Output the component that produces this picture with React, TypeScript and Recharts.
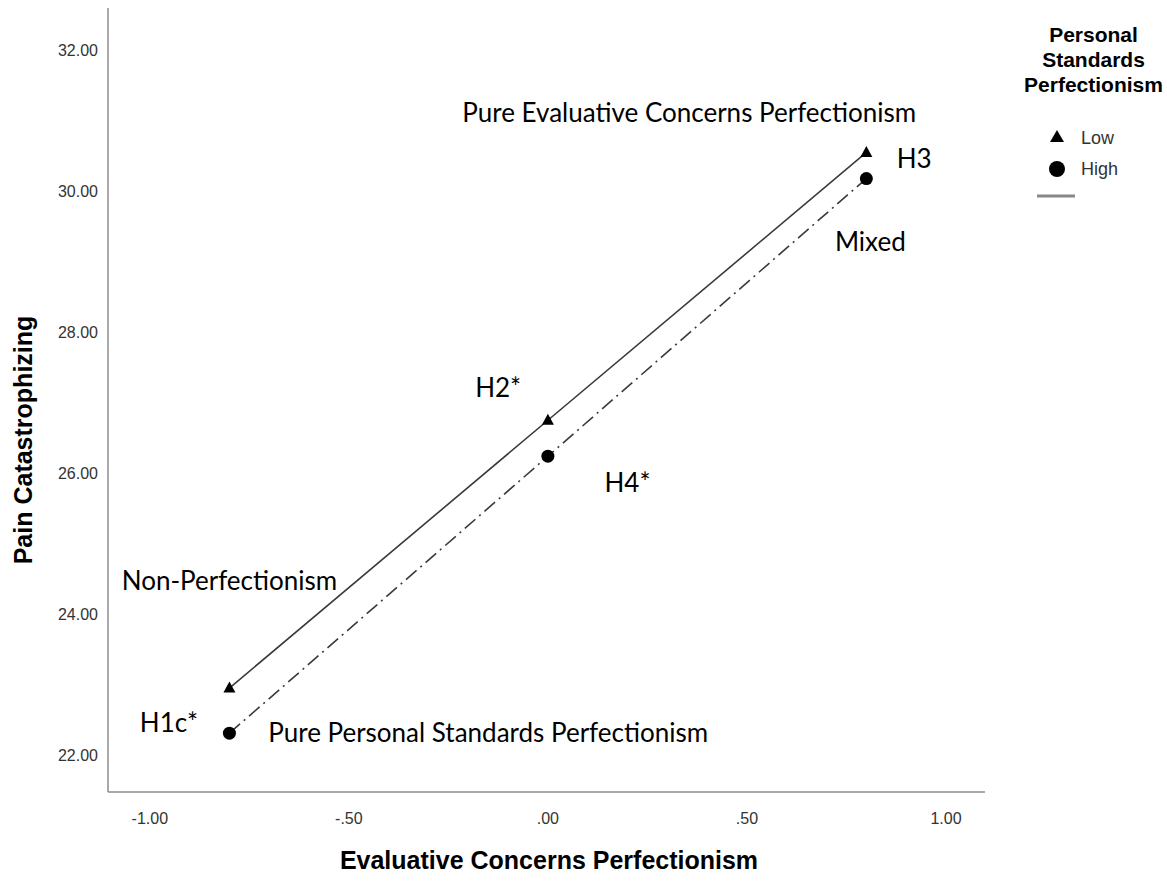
import React from 'react';
import { LineChart, Line, XAxis, YAxis, Legend, ReferenceDot } from 'recharts';

// Evaluative Concerns Perfectionism (x) at -1 SD, mean, +1 SD
const ecpLevels = [-0.8, 0, 0.8];
// Pain Catastrophizing, by Personal Standards Perfectionism group
const lowPsp = [22.95, 26.75, 30.55];
const highPsp = [22.31, 26.24, 30.18];

const xTicks = [-1, -0.5, 0, 0.5, 1];
const yTicks = [22, 24, 26, 28, 30, 32];

// text notes placed in data units (x = ECP, y = pain catastrophizing)
const notes = [
  { text: 'Pure Evaluative Concerns Perfectionism', x: 0.355, y: 31.12 },
  { text: 'H3', x: 0.92, y: 30.47 },
  { text: 'Mixed', x: 0.81, y: 29.3 },
  { text: 'H2*', x: -0.125, y: 27.22 },
  { text: 'H4*', x: 0.2, y: 25.87 },
  { text: 'Non-Perfectionism', x: -0.8, y: 24.48 },
  { text: 'H1c*', x: -0.952, y: 22.47 },
  { text: 'Pure Personal Standards Perfectionism', x: -0.15, y: 22.33 },
];

const chartData = ecpLevels.map((x, i) => ({ x, low: lowPsp[i], high: highPsp[i] }));

const tickFont = "'Liberation Sans', Arial, sans-serif";
const noteFont = "Lato, 'Open Sans', sans-serif";

function fmt(v: number) {
  const s = Math.abs(v).toFixed(2);
  const t = Math.abs(v) < 1 ? s.slice(1) : s;
  return (v < 0 ? '-' : '') + t;
}

const Triangle = (props: any) => {
  const { cx, cy } = props;
  if (cx == null || cy == null) return null;
  return <polygon points={`${cx},${cy - 6.5} ${cx + 6},${cy + 4.5} ${cx - 6},${cy + 4.5}`} fill="#000" />;
};

const Dot = (props: any) => {
  const { cx, cy } = props;
  if (cx == null || cy == null) return null;
  return <circle cx={cx} cy={cy} r={6.5} fill="#000" />;
};

const XTick = (props: any) => (
  <text x={props.x} y={props.y + 26} textAnchor="middle" dominantBaseline="central"
    fontFamily={tickFont} fontSize={16} fill="#333">
    {fmt(props.payload.value)}
  </text>
);

const YTick = (props: any) => (
  <text x={props.x - 10} y={props.y} textAnchor="end" dominantBaseline="central"
    fontFamily={tickFont} fontSize={16} fill="#333">
    {props.payload.value.toFixed(2)}
  </text>
);

const LegendBox = () => (
  <div style={{ fontFamily: tickFont, color: '#000', width: 147 }}>
    <div style={{ fontWeight: 'bold', fontSize: 21, lineHeight: '25px', textAlign: 'center' }}>
      Personal<br />Standards<br />Perfectionism
    </div>
    <svg width={147} height={115} style={{ display: 'block' }}>
      <polygon points="37,33 44,45 30,45" fill="#000" />
      <text x={61} y={41} fontSize={18} fill="#333" dominantBaseline="central">Low</text>
      <circle cx={37} cy={72} r={8} fill="#000" />
      <text x={61} y={72} fontSize={18} fill="#333" dominantBaseline="central">High</text>
      <line x1={17} x2={55} y1={99} y2={99} stroke="#888" strokeWidth={3} />
    </svg>
  </div>
);

export default function App() {
  return (
    <div style={{ position: 'absolute', left: 0, top: 0, background: '#fff' }}>
      <LineChart width={1167} height={881} data={chartData}
        margin={{ top: 8, right: 182, bottom: 0, left: 0 }}>
        <XAxis type="number" dataKey="x" domain={[-1.105, 1.098]} ticks={xTicks}
          allowDataOverflow tickLine={false} tickSize={0} tickMargin={0} height={89}
          axisLine={{ stroke: '#8c8c8c', strokeWidth: 1.5 }} tick={<XTick />}
          label={{
            content: () => (
              <text x={549} y={860} textAnchor="middle" dominantBaseline="central"
                fontFamily={tickFont} fontWeight="bold" fontSize={25} fill="#000">
                Evaluative Concerns Perfectionism
              </text>
            ),
          }} />
        <YAxis type="number" domain={[21.475, 32.6]} ticks={yTicks} allowDataOverflow
          tickLine={false} tickSize={0} tickMargin={0} width={108}
          axisLine={{ stroke: '#8c8c8c', strokeWidth: 1.5 }} tick={<YTick />}
          label={{
            content: () => (
              <text x={23} y={440} textAnchor="middle" dominantBaseline="central"
                transform="rotate(-90 23 440)"
                fontFamily={tickFont} fontWeight="bold" fontSize={25} fill="#000">
                Pain Catastrophizing
              </text>
            ),
          }} />
        <Legend layout="vertical" align="center" verticalAlign="middle"
          content={() => <LegendBox />}
          wrapperStyle={{ left: 1020, top: 22, width: 147, height: 200 }} />
        <Line type="linear" dataKey="low" name="Low" stroke="#3a3a3a" strokeWidth={1.6}
          dot={<Triangle />} activeDot={false} isAnimationActive={false} />
        <Line type="linear" dataKey="high" name="High" stroke="#3a3a3a" strokeWidth={1.6}
          strokeDasharray="14 5 2 5" dot={<Dot />} activeDot={false} isAnimationActive={false} />
        {notes.map((n) => (
          <ReferenceDot key={n.text} x={n.x} y={n.y} r={0} ifOverflow="visible"
            shape={(p: any) => (
              <text x={p.cx} y={p.cy} textAnchor="middle" dominantBaseline="central"
                fontFamily={noteFont} fontSize={26} fill="#000">
                {n.text}
              </text>
            )} />
        ))}
      </LineChart>
    </div>
  );
}
